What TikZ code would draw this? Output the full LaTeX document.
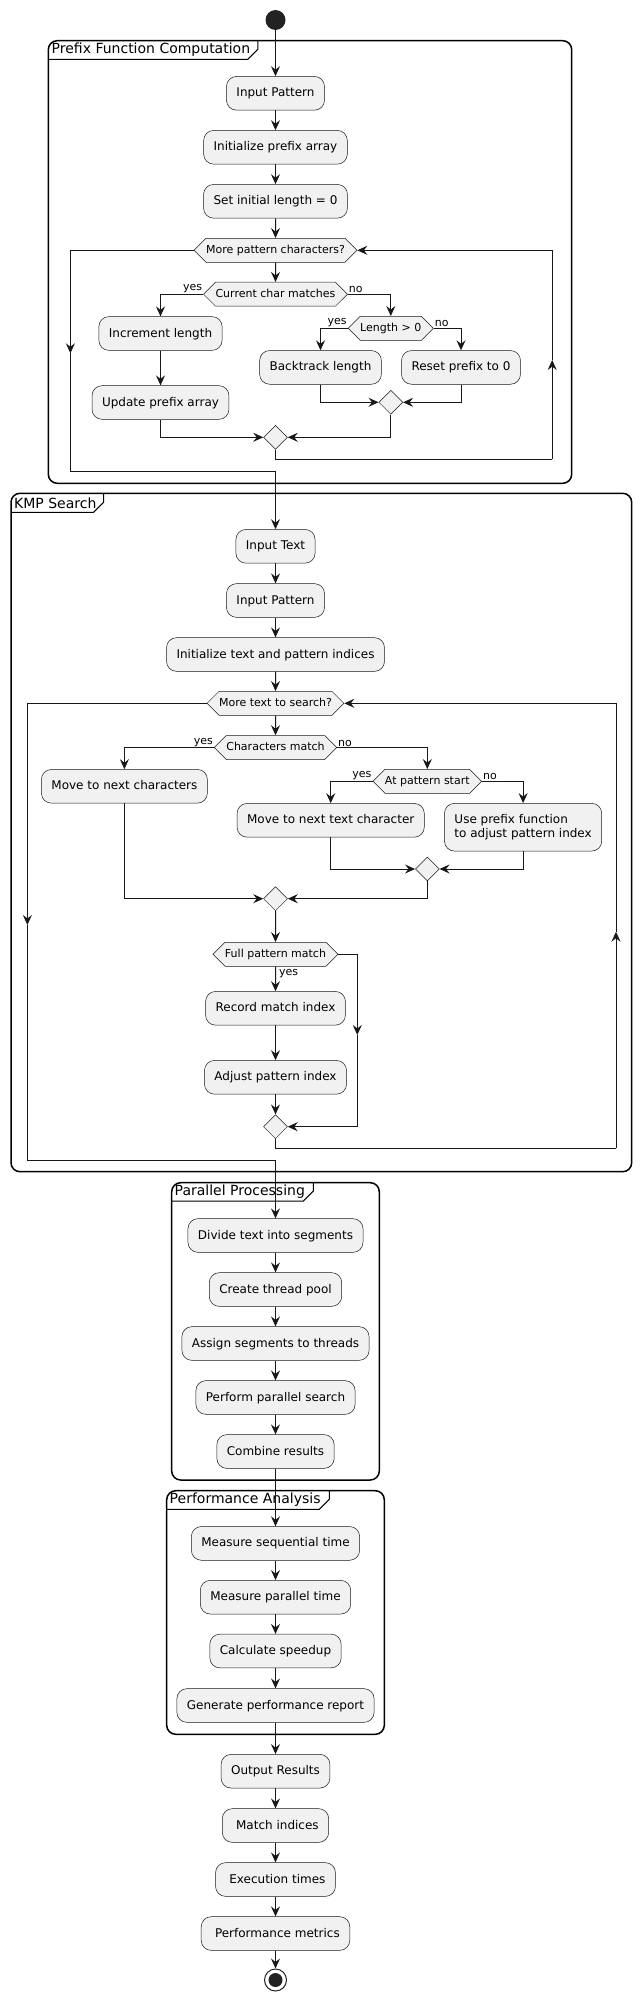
\documentclass[tikz,border=0pt]{standalone}
\usepackage{fontspec}
\setmainfont{DejaVu Sans}
\usetikzlibrary{shapes.geometric,shapes.symbols,arrows.meta}
\definecolor{boxfill}{HTML}{F1F1F1}
\definecolor{lineC}{HTML}{181818}
\definecolor{startC}{HTML}{222222}
\begin{document}
\begin{tikzpicture}[x=1pt,y=-1pt,
  actbase/.style={draw=lineC, line width=0.5pt, fill=boxfill, rounded corners=10pt, inner xsep=10pt, inner ysep=0pt, minimum height=33.7pt, font=\fontsize{12}{14}\selectfont},
  act/.style={actbase, text height=9.5pt, text depth=2.5pt},
  dec/.style={signal, signal to=east and west, signal pointer angle=90, draw=lineC, line width=0.5pt, fill=boxfill, inner xsep=0pt, inner ysep=6.5pt, text height=8.5pt, text depth=2.5pt, font=\fontsize{11}{13}\selectfont},
  mrg/.style={diamond, draw=lineC, line width=0.5pt, fill=boxfill, minimum size=24pt, inner sep=0pt},
  flow/.style={draw=lineC, line width=1pt},
  arr/.style={flow, -{Stealth[length=10pt,width=9pt,inset=3.5pt]}},
  lbl/.style={font=\fontsize{11}{13}\selectfont, inner sep=1pt},
  frm/.style={draw=black, line width=1.5pt, rounded corners=9pt},
  tabline/.style={draw=black, line width=1pt},
  ttl/.style={font=\fontsize{14}{16}\selectfont, inner sep=0pt, anchor=west},
]
\useasboundingbox (0,0) rectangle (642,2002);

% ---------- frames ----------
\draw[frm] (48.3,40.7) rectangle (571.7,483.3);
\draw[tabline] (48.3,59.3) -- (247.9,59.3) -- (257.9,49.3) -- (257.9,40.7);
\node[ttl] (tP) at (51.5,50) {Prefix Function Computation};

\draw[frm] (11,493.3) rectangle (631.7,1171.7);
\draw[tabline] (11,512.3) -- (93.6,512.3) -- (103.6,502.3) -- (103.6,493.3);
\node[ttl] (tK) at (14,502.8) {KMP Search};

\draw[frm] (171.7,1182.7) rectangle (379.3,1480);
\draw[tabline] (171.7,1201) -- (303.3,1201) -- (313.3,1191) -- (313.3,1182.7);
\node[ttl] (tQ) at (174.5,1192) {Parallel Processing};

\draw[frm] (166.7,1490.7) rectangle (384.3,1734.3);
\draw[tabline] (166.7,1509.3) -- (319.3,1509.3) -- (329.3,1499.3) -- (329.3,1490.7);
\node[ttl] (tR) at (169.5,1500) {Performance Analysis};

% ---------- prefix function nodes ----------
\node[circle, fill=startC, minimum size=20pt, inner sep=0pt] (start) at (275.5,20) {};
\node[act] (p1) at (275.5,93.3) {Input Pattern};
\node[act] (p2) at (275.5,147.3) {Initialize prefix array};
\node[act] (p3) at (275.5,201.3) {Set initial length = 0};
\node[dec] (pw) at (275.5,250.3) {More pattern characters?};
\node[dec] (pc) at (275.5,294.2) {Current char matches};
\node[act] (pinc) at (160.5,333.5) {Increment length};
\node[act] (pupd) at (160.5,402.5) {Update prefix array};
\node[dec] (plen) at (390.8,328.3) {Length > 0};
\node[act] (pback) at (320.5,367.4) {Backtrack length};
\node[act] (preset) at (461,367.4) {Reset prefix to 0};
\node[mrg] (pm1) at (390.8,402.3) {};
\node[mrg] (pm2) at (275.5,437.3) {};
\coordinate (pr1) at (552.2,459.3);
\coordinate (pr2) at (552.2,360);
\coordinate (pl1) at (70.4,353.3);
\coordinate (pl2) at (70.4,471.7);

% ---------- KMP nodes ----------
\node[act] (k1) at (275.5,546.3) {Input Text};
\node[act] (k2) at (275.5,600.5) {Input Pattern};
\node[act] (k3) at (275.5,654.5) {Initialize text and pattern indices};
\node[dec] (kw) at (275.5,703.3) {More text to search?};
\node[dec] (kc) at (275.5,747.5) {Characters match};
\node[act] (kmove) at (124.4,786.3) {Move to next characters};
\node[dec] (kat) at (427.3,781.3) {At pattern start};
\node[act] (ktext) at (330.7,820.3) {Move to next text character};
\node[actbase, align=left, minimum height=47.7pt] (kpre) at (523.1,827.2) {Use prefix function\\to adjust pattern index};
\node[mrg] (km1) at (427.3,869) {};
\node[mrg] (km2) at (275.5,898.7) {};
\node[dec] (kf) at (275.5,954.3) {Full pattern match};
\node[act] (krec) at (275.5,1008.3) {Record match index};
\node[act] (kadj) at (275.5,1077.3) {Adjust pattern index};
\node[mrg] (km3) at (275.5,1126.7) {};
\coordinate (kfr) at (357.3,1035);
\coordinate (kr1) at (616,1148.3);
\coordinate (kr2) at (616,931.7);
\coordinate (kl1) at (27.4,925);
\coordinate (kl2) at (27.4,1160);

% ---------- parallel / performance nodes ----------
\node[act] (q1) at (275.5,1235.5) {Divide text into segments};
\node[act] (q2) at (275.5,1289.5) {Create thread pool};
\node[act] (q3) at (275.5,1343.5) {Assign segments to threads};
\node[act] (q4) at (275.5,1397.5) {Perform parallel search};
\node[act] (q5) at (275.5,1451.5) {Combine results};
\node[act] (r1) at (275.5,1543.4) {Measure sequential time};
\node[act] (r2) at (275.5,1597.2) {Measure parallel time};
\node[act] (r3) at (275.5,1651) {Calculate speedup};
\node[act] (r4) at (275.5,1705.5) {Generate performance report};
\node[act] (o1) at (275.5,1771.2) {Output Results};
\node[act] (o2) at (275.5,1825.5) {\ Match indices};
\node[act] (o3) at (275.5,1879.5) {\ Execution times};
\node[act] (o4) at (275.5,1933.5) {\ Performance metrics};
\node[circle, draw=startC, line width=1pt, fill=white, minimum size=22pt, inner sep=0pt] (end) at (275.5,1980) {};
\node[circle, fill=startC, minimum size=14pt, inner sep=0pt] (endin) at (end.center) {};

% ---------- labels ----------
\node[lbl, anchor=south east] (l1) at (pc.west) {yes};
\node[lbl, anchor=south west] (l2) at (pc.east) {no};
\node[lbl, anchor=south east] (l3) at (plen.west) {yes};
\node[lbl, anchor=south west] (l4) at (plen.east) {no};
\node[lbl, anchor=south east] (l5) at (kc.west) {yes};
\node[lbl, anchor=south west] (l6) at (kc.east) {no};
\node[lbl, anchor=south east] (l7) at (kat.west) {yes};
\node[lbl, anchor=south west] (l8) at (kat.east) {no};

% ---------- prefix edges ----------
\draw[arr] (start) -- (p1);
\draw[arr] (p1) -- (p2);
\draw[arr] (p2) -- (p3);
\draw[arr] (p3) -- (pw);
\draw[arr] (pw) -- (pc);
\draw[arr] (pc.west) -| (pinc.north);
\draw[arr] (pinc) -- (pupd);
\draw[arr] (pc.east) -| (plen.north);
\draw[arr] (plen.west) -| (pback.north);
\draw[arr] (plen.east) -| (preset.north);
\draw[arr] (pback.south) |- (pm1.west);
\draw[arr] (preset.south) |- (pm1.east);
\draw[arr] (pupd.south) |- (pm2.west);
\draw[arr] (pm1.south) |- (pm2.east);
\draw[flow] (pm2.south) |- (pr1);
\draw[arr] (pr1) -- (pr2);
\draw[arr] (pr2) |- (pw.east);
\draw[arr] (pw.west) -| (pl1);
\draw[flow] (pl1) -- (pl2);
\draw[arr] (pl2) -| (k1.north);

% ---------- KMP edges ----------
\draw[arr] (k1) -- (k2);
\draw[arr] (k2) -- (k3);
\draw[arr] (k3) -- (kw);
\draw[arr] (kw) -- (kc);
\draw[arr] (kc.west) -| (kmove.north);
\draw[arr] (kc.east) -| (kat.north);
\draw[arr] (kat.west) -| (ktext.north);
\draw[arr] (kat.east) -| (kpre.north);
\draw[arr] (ktext.south) |- (km1.west);
\draw[arr] (kpre.south) |- (km1.east);
\draw[arr] (kmove.south) |- (km2.west);
\draw[arr] (km1.south) |- (km2.east);
\draw[arr] (km2) -- (kf);
\draw[arr] (kf) -- node[lbl, anchor=west, pos=0.3, xshift=2pt] (l9) {yes} (krec);
\draw[arr] (krec) -- (kadj);
\draw[arr] (kadj) -- (km3);
\draw[arr] (kf.east) -| (kfr);
\draw[arr] (kfr) |- (km3.east);
\draw[flow] (km3.south) |- (kr1);
\draw[arr] (kr1) -- (kr2);
\draw[arr] (kr2) |- (kw.east);
\draw[arr] (kw.west) -| (kl1);
\draw[flow] (kl1) -- (kl2);
\draw[arr] (kl2) -| (q1.north);

% ---------- parallel / performance edges ----------
\draw[arr] (q1) -- (q2);
\draw[arr] (q2) -- (q3);
\draw[arr] (q3) -- (q4);
\draw[arr] (q4) -- (q5);
\draw[arr] (q5) -- (r1);
\draw[arr] (r1) -- (r2);
\draw[arr] (r2) -- (r3);
\draw[arr] (r3) -- (r4);
\draw[arr] (r4) -- (o1);
\draw[arr] (o1) -- (o2);
\draw[arr] (o2) -- (o3);
\draw[arr] (o3) -- (o4);
\draw[arr] (o4) -- (end);
\end{tikzpicture}
\end{document}
